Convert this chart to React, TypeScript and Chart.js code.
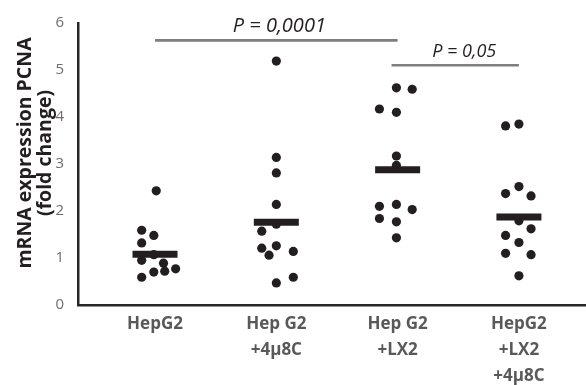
import React, { useEffect, useRef } from "react";
import { Chart, registerables } from "chart.js";

Chart.register(...registerables);

// ---- data ----
const categories: string[][] = [
  ["HepG2"],
  ["Hep G2", "+4μ8C"],
  ["Hep G2", "+LX2"],
  ["HepG2", "+LX2", "+4μ8C"],
];

const valuesHepG2 = [2.43, 1.59, 1.48, 1.32, 1.07, 0.95, 0.89, 0.72, 0.77, 0.7, 0.59];
const valuesHepG2u8C = [5.19, 3.14, 2.81, 2.14, 1.72, 1.57, 1.21, 1.26, 1.06, 1.14, 0.47, 0.59];
const valuesHepG2LX2 = [4.62, 4.59, 4.17, 4.1, 3.17, 2.97, 2.1, 2.14, 2.03, 1.84, 1.77, 1.43];
const valuesHepG2LX2u8C = [3.81, 3.85, 2.52, 2.37, 2.32, 1.79, 1.62, 1.48, 1.33, 1.1, 1.07, 0.62];

// horizontal jitter of each dot (in category units)
const jitterHepG2 = [0.01, -0.11, -0.01, -0.11, -0.01, -0.11, 0.07, 0.08, 0.17, -0.01, -0.11];
const jitterHepG2u8C = [0, 0, 0, 0, 0, -0.12, -0.12, 0, -0.06, 0.14, 0, 0.14];
const jitterHepG2LX2 = [-0.01, 0.12, -0.15, -0.01, -0.01, -0.01, -0.15, -0.01, 0.12, -0.15, -0.01, -0.01];
const jitterHepG2LX2u8C = [-0.11, 0, 0, -0.11, 0.1, 0, 0.1, -0.11, 0, -0.11, 0.1, 0];

const means = [1.08, 1.76, 2.88, 1.87];

const yTicks = [0, 1, 2, 3, 4, 5, 6];

const sigLabels = ["P = 0,0001", "P = 0,05"];
const sigFrom = [1, 2.95];
const sigTo = [3, 4];
const sigLevel = [5.63, 5.1];

const yTitle = ["mRNA expression PCNA", "(fold change)"];

// ---- styles ----
const FONT = "'Open Sans', sans-serif";
const INK = "#231f20";
const sigTextDx = [3, 9];
const sigTextSize = [20, 18];

const groups = [
  { v: valuesHepG2, j: jitterHepG2 },
  { v: valuesHepG2u8C, j: jitterHepG2u8C },
  { v: valuesHepG2LX2, j: jitterHepG2LX2 },
  { v: valuesHepG2LX2u8C, j: jitterHepG2LX2u8C },
];

export default function App() {
  const ref = useRef<HTMLCanvasElement | null>(null);

  useEffect(() => {
    if (!ref.current) return;
    Chart.defaults.font.family = FONT;

    const dotSets: any[] = groups.map((g, gi) => ({
      type: "scatter",
      data: g.v.map((y, i) => ({ x: gi + 1 + g.j[i], y })),
      pointRadius: 4.6,
      pointHoverRadius: 4.6,
      pointBackgroundColor: INK,
      pointBorderWidth: 0,
      showLine: false,
    }));

    const meanSet: any = {
      type: "scatter",
      data: means.map((y, i) => ({ x: i + 1, y })),
      pointStyle: "line",
      pointRadius: 22.5,
      pointHoverRadius: 22.5,
      pointBorderColor: INK,
      pointBorderWidth: 7,
      pointHoverBorderWidth: 7,
      showLine: false,
    };

    const sigSets: any[] = sigLabels.map((_, i) => ({
      type: "line",
      data: [
        { x: sigFrom[i], y: sigLevel[i] },
        { x: sigTo[i], y: sigLevel[i] },
      ],
      borderColor: "#7f7f7f",
      borderWidth: 2.6,
      pointRadius: 0,
      fill: false,
    }));

    const annot = {
      id: "annot",
      afterDraw(chart: any) {
        const ctx = chart.ctx;
        const xs = chart.scales.x;
        const ys = chart.scales.y;
        ctx.save();
        // y-axis title
        ctx.fillStyle = INK;
        ctx.font = `bold 19.5px ${FONT}`;
        ctx.textAlign = "center";
        ctx.textBaseline = "middle";
        const titleX = [25, 45];
        yTitle.forEach((t, i) => {
          ctx.save();
          ctx.translate(titleX[i], 153);
          ctx.rotate(-Math.PI / 2);
          ctx.fillText(t, 0, 0);
          ctx.restore();
        });
        // significance labels
        ctx.textBaseline = "alphabetic";
        sigLabels.forEach((t, i) => {
          ctx.font = `italic ${sigTextSize[i]}px ${FONT}`;
          const cx = (xs.getPixelForValue(sigFrom[i]) + xs.getPixelForValue(sigTo[i])) / 2 + sigTextDx[i];
          const cy = ys.getPixelForValue(sigLevel[i]) - 8;
          ctx.fillText(t, cx, cy);
        });
        ctx.restore();
      },
    };

    const chart = new Chart(ref.current, {
      type: "scatter",
      data: { datasets: [meanSet, ...dotSets, ...sigSets] },
      options: {
        animation: false,
        responsive: false,
        devicePixelRatio: 1,
        layout: { autoPadding: false, padding: { top: 15, left: 0, right: 0, bottom: 0 } },
        plugins: { legend: { display: false }, tooltip: { enabled: false } },
        scales: {
          x: {
            type: "linear",
            min: 0.365,
            max: 4.553,
            grid: { display: false, drawTicks: false, tickLength: 0 },
            border: { display: true, color: "#262626", width: 2.5 },
            afterBuildTicks: (scale: any) => {
              scale.ticks = categories.map((_, i) => ({ value: i + 1 }));
            },
            afterFit: (scale: any) => {
              scale.height = 80;
            },
            ticks: {
              autoSkip: false,
              maxRotation: 0,
              minRotation: 0,
              padding: 6,
              color: "#595959",
              font: { size: 17, weight: "bold", lineHeight: "26px" },
              callback: (_v: any, i: number) => categories[i],
            },
          },
          y: {
            type: "linear",
            min: 0,
            max: 6,
            grid: { display: false, drawTicks: false, tickLength: 0 },
            border: { display: true, color: "#262626", width: 2.5 },
            afterBuildTicks: (scale: any) => {
              scale.ticks = yTicks.map((v) => ({ value: v }));
            },
            afterFit: (scale: any) => {
              scale.width = 78;
            },
            ticks: {
              padding: 14,
              color: "#6d6d6d",
              font: { size: 15 },
            },
          },
        },
      },
      plugins: [annot],
    } as any);

    return () => chart.destroy();
  }, []);

  return (
    <div style={{ position: "fixed", left: 0, top: 0, width: 586, height: 385, background: "#fff" }}>
      <canvas ref={ref} width={586} height={385} style={{ width: 586, height: 385, display: "block" }} />
    </div>
  );
}
